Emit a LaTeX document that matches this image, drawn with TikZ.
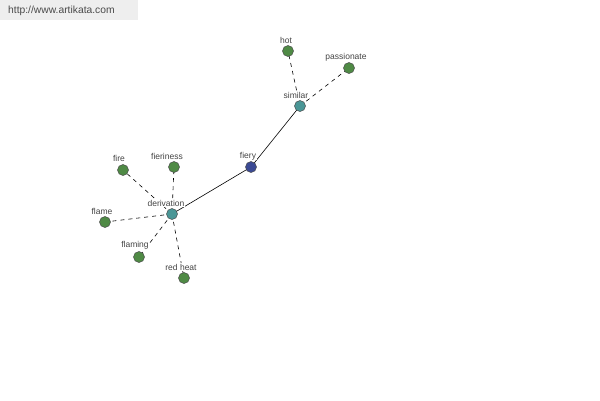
\documentclass[tikz,border=0pt]{standalone}
\usepackage{fontspec}
\setmainfont{Liberation Sans}
\definecolor{leafgreen}{HTML}{4F8A45}
\definecolor{tealc}{HTML}{4A9696}
\definecolor{navyc}{HTML}{3B4A94}
\definecolor{hdrbg}{HTML}{EEEEEE}
\definecolor{hdrtxt}{HTML}{4A4A4A}
\definecolor{lbl}{HTML}{444444}
\tikzset{
  dot/.style={circle,draw=black!70,line width=0.5pt,minimum size=11pt,inner sep=0pt},
  leaf/.style={dot,fill=leafgreen},
  hub/.style={dot,fill=tealc},
  root/.style={dot,fill=navyc},
  lab/.style={font=\fontsize{8.5}{9}\selectfont,text=lbl,fill=white,inner sep=0.5pt},
  solidlink/.style={draw=black,line width=0.6pt},
  dashlink/.style={draw=black,line width=0.6pt,dash pattern=on 4pt off 4pt},
}
\begin{document}
\begin{tikzpicture}[x=1pt,y=-1pt]
\useasboundingbox (0,0) rectangle (600,400);
\fill[white] (0,0) rectangle (600,400);
\fill[hdrbg] (0,0) rectangle (138,20);
\node[anchor=west,font=\fontsize{10.3}{11}\selectfont,text=hdrtxt,inner sep=0] (hdr) at (8,11) {http://www.artikata.com};
% node positions
\coordinate (pfiery) at (251,167);
\coordinate (psimilar) at (300,106);
\coordinate (phot) at (288,51);
\coordinate (ppass) at (349,68);
\coordinate (pderiv) at (172,214);
\coordinate (pfire) at (123,170);
\coordinate (pfieri) at (174,167);
\coordinate (pflame) at (105,222);
\coordinate (pflaming) at (139,257);
\coordinate (pred) at (184,278);
% links
\draw[solidlink] (pfiery) -- (psimilar);
\draw[solidlink] (pfiery) -- (pderiv);
\draw[dashlink] (psimilar) -- (phot);
\draw[dashlink] (psimilar) -- (ppass);
\draw[dashlink] (pderiv) -- (pfire);
\draw[dashlink] (pderiv) -- (pfieri);
\draw[dashlink] (pderiv) -- (pflame);
\draw[dashlink] (pderiv) -- (pflaming);
\draw[dashlink] (pderiv) -- (pred);
% labels
\node[lab] (lfiery) at (248,156) {fiery};
\node[lab] (lsimilar) at (296,95) {similar};
\node[lab] (lhot) at (286,40) {hot};
\node[lab] (lpass) at (346,57) {passionate};
\node[lab] (lderiv) at (166,203) {derivation};
\node[lab] (lfire) at (119,158) {fire};
\node[lab] (lfieri) at (167,156) {fieriness};
\node[lab] (lflame) at (102,211) {flame};
\node[lab] (lflaming) at (135,245) {flaming};
\node[lab] (lred) at (181,267) {red heat};
% dots
\node[root] (fiery) at (pfiery) {};
\node[hub] (similar) at (psimilar) {};
\node[leaf] (hot) at (phot) {};
\node[leaf] (pass) at (ppass) {};
\node[hub] (deriv) at (pderiv) {};
\node[leaf] (fire) at (pfire) {};
\node[leaf] (fieri) at (pfieri) {};
\node[leaf] (flame) at (pflame) {};
\node[leaf] (flaming) at (pflaming) {};
\node[leaf] (red) at (pred) {};
\end{tikzpicture}
\end{document}
